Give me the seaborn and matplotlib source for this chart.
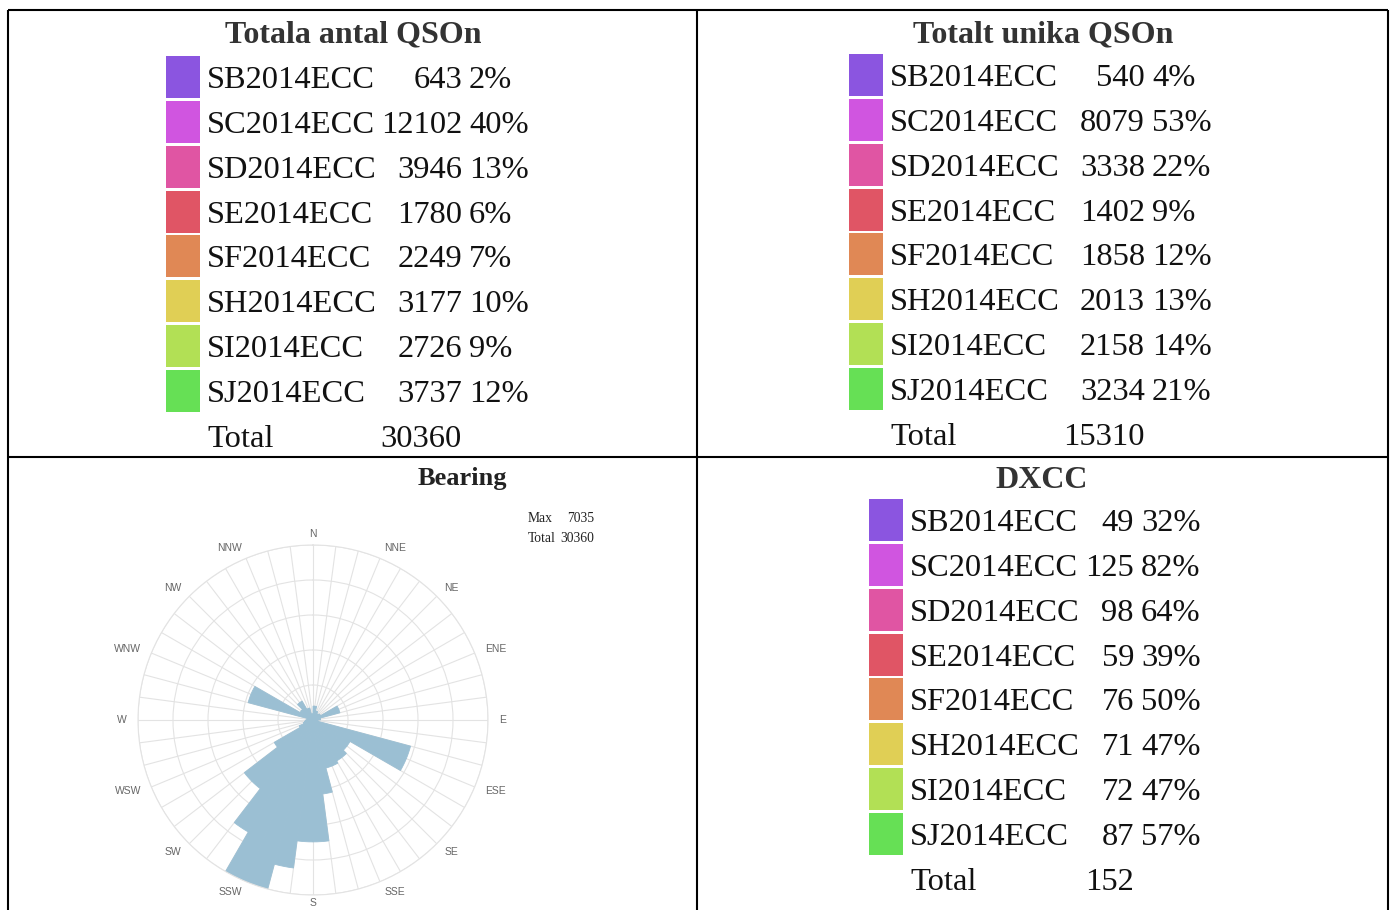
import numpy as np
import seaborn as sns
import matplotlib.pyplot as plt
from matplotlib.patches import Rectangle

# ---- data -------------------------------------------------------------
stations = ['SB2014ECC', 'SC2014ECC', 'SD2014ECC', 'SE2014ECC',
            'SF2014ECC', 'SH2014ECC', 'SI2014ECC', 'SJ2014ECC']
station_colors = ['#8b55e0', '#d055e0', '#e055a3', '#e05565',
                  '#e08855', '#e0cf55', '#b2e055', '#66e055']

qso_all = [643, 12102, 3946, 1780, 2249, 3177, 2726, 3737]
qso_all_pct = [2, 40, 13, 6, 7, 10, 9, 12]
qso_all_total = 30360

qso_unique = [540, 8079, 3338, 1402, 1858, 2013, 2158, 3234]
qso_unique_pct = [4, 53, 22, 9, 12, 13, 14, 21]
qso_unique_total = 15310

dxcc = [49, 125, 98, 59, 76, 71, 72, 87]
dxcc_pct = [32, 82, 64, 39, 50, 47, 47, 57]
dxcc_total = 152

# bearing rose, 7.5 degree sectors (start of sector, clockwise from north)
bearing_from = [0, 7.5, 15, 22.5, 30, 37.5, 45, 52.5, 60, 67.5, 75, 82.5,
                90, 97.5, 105, 112.5, 120, 127.5, 135, 142.5, 150, 157.5, 165, 172.5,
                180, 187.5, 195, 202.5, 210, 217.5, 225, 232.5, 240, 247.5, 255, 262.5,
                270, 277.5, 285, 292.5, 300, 307.5, 315, 322.5, 330, 337.5, 345, 352.5]
bearing_qso = [560, 560, 380, 380, 300, 300, 350, 350, 1120, 1120, 300, 300,
               200, 200, 4060, 4060, 1720, 1720, 1900, 1900, 2000, 2000, 3000, 4900,
               4900, 6000, 7035, 7035, 5200, 3480, 3480, 1800, 600, 400, 350, 300,
               250, 250, 2700, 2700, 600, 600, 880, 880, 500, 500, 250, 250]
bearing_max = 7035
bearing_total = 30360
compass = ['N', 'NNE', 'NE', 'ENE', 'E', 'ESE', 'SE', 'SSE',
           'S', 'SSW', 'SW', 'WSW', 'W', 'WNW', 'NW', 'NNW']

# ---- style ------------------------------------------------------------
sns.set_style('white')
plt.rcParams['font.family'] = ['Liberation Serif', 'DejaVu Serif']

fig = plt.figure(figsize=(13.92, 9.10), dpi=100)
bg = fig.add_axes([0, 0, 1, 1])
bg.set_xlim(0, 1392)
bg.set_ylim(910, 0)
bg.axis('off')

# table rules
for x in (8, 697, 1388):
    bg.plot([x, x], [10, 910], color='black', lw=1.5, solid_capstyle='butt')
for y in (10, 457):
    bg.plot([8, 1388], [y, y], color='black', lw=1.5, solid_capstyle='butt')

pitch = 44.86


def legend_cell(title, title_x, title_y, sw_x, row_y, num_right, values, pcts, total):
    bg.text(title_x, title_y, title, ha='center', va='baseline',
            fontsize=23, fontweight='bold', color='#333333')
    for i, (name, v, p, c) in enumerate(zip(stations, values, pcts, station_colors)):
        yc = row_y + i * pitch
        bg.add_patch(Rectangle((sw_x, yc - 21), 34, 42, facecolor=c, edgecolor='none'))
        bg.text(sw_x + 41, yc + 11, name, ha='left', va='baseline', fontsize=23.4, color='#111111')
        bg.text(num_right, yc + 11, str(v), ha='right', va='baseline', fontsize=23.4, color='#111111')
        bg.text(num_right + 7, yc + 11, f'{p}%', ha='left', va='baseline', fontsize=23.4, color='#111111')
    yt = row_y + len(values) * pitch
    bg.text(sw_x + 41, yt + 11, 'Total', ha='left', va='baseline', fontsize=23.4, color='#111111')
    bg.text(num_right, yt + 11, str(total), ha='right', va='baseline', fontsize=23.4, color='#111111')


legend_cell('Totala antal QSOn', 353, 42, 166, 77, 462, qso_all, qso_all_pct, qso_all_total)
legend_cell('Totalt unika QSOn', 1043, 42, 849, 75, 1145, qso_unique, qso_unique_pct, qso_unique_total)
legend_cell('DXCC', 1042, 488, 869, 520, 1134, dxcc, dxcc_pct, dxcc_total)

# ---- bearing rose -----------------------------------------------------
bg.text(462, 485, 'Bearing', ha='center', va='baseline', fontsize=19,
        fontweight='bold', color='#222222')
bg.text(528, 522.5, 'Max', ha='left', va='baseline', fontsize=9.8, color='#222222')
bg.text(594, 522.5, str(bearing_max), ha='right', va='baseline', fontsize=9.8, color='#222222')
bg.text(528, 541.5, 'Total', ha='left', va='baseline', fontsize=9.8, color='#222222')
bg.text(594, 541.5, str(bearing_total), ha='right', va='baseline', fontsize=9.8, color='#222222')

ax = fig.add_axes([138 / 1392, 15 / 910, 350 / 1392, 350 / 910], projection='polar')
ax.set_theta_zero_location('N')
ax.set_theta_direction(-1)
theta = np.deg2rad(np.array(bearing_from) + 3.75)
rose_color = '#9bbfd3'
sns.barplot(x=theta, y=bearing_qso, native_scale=True, width=1, color=rose_color,
            saturation=1, linewidth=0.6, edgecolor=rose_color, ax=ax, zorder=2)
ax.set_ylim(0, bearing_max)
ax.set_yticks(np.linspace(0, bearing_max, 6)[1:])
ax.set_yticklabels([])
ax.set_xticks(np.deg2rad(np.arange(0, 360, 7.5)))
ax.set_xticklabels([])
ax.set_xlim(0, 2 * np.pi)
ax.grid(True, color='#e3e3e3', lw=0.8)
ax.set_axisbelow(True)
ax.spines['polar'].set_color('#e3e3e3')
ax.spines['polar'].set_linewidth(0.8)
ax.set_xlabel('')
ax.set_ylabel('')
for i, lab in enumerate(compass):
    deg = i * 22.5
    if 0 < deg < 180:
        ha = 'left'
    elif deg > 180:
        ha = 'right'
    else:
        ha = 'center'
    r_px = 183 if lab == 'S' else 186
    ax.text(np.deg2rad(deg), bearing_max * r_px / 175, lab, ha=ha, va='center',
            fontsize=7.5, color='#666666', family='Liberation Sans', clip_on=False)

fig.savefig('out.png', dpi=100)
